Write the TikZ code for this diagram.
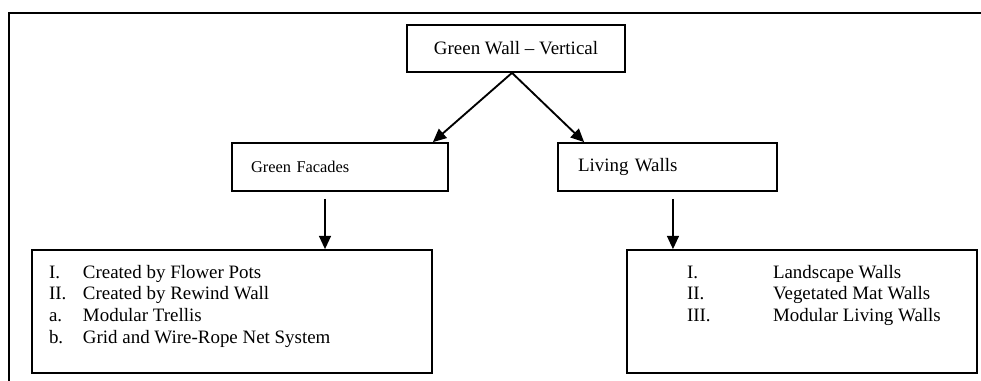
\documentclass[tikz,border=0pt]{standalone}
\usepackage{fontspec}
\setmainfont{Liberation Serif}
\usetikzlibrary{arrows.meta,calc}
\begin{document}
\begin{tikzpicture}[x=0.75pt,y=-0.75pt,
  box/.style={draw, line width=1.3pt, inner sep=0pt, anchor=center},
  arr/.style={line width=1.4pt, -{Triangle[length=10pt,width=9pt]}},
  bigfont/.style={font=\fontsize{14.2pt}{16.3pt}\selectfont},
]
\useasboundingbox (0,0) rectangle (981,381);
\draw[line width=1.7pt] (9,381) -- (9,13) -- (981,13);
\node[box, bigfont, minimum width=163.5pt, minimum height=35.25pt] (top) at (516,48.5) {Green Wall – Vertical};
\node[box, font=\fontsize{12.3pt}{14pt}\selectfont, text width=133.5pt, inner xsep=14.25pt, minimum height=36pt, align=left] (gf) at (340,167) {Green Facades};
\node[box, bigfont, text width=134.25pt, inner xsep=15pt, minimum height=36pt, align=left] (lw) at (667.5,167) {Living Walls};
\node[box, bigfont, text height=21pt, text depth=71.25pt] (lb) at (232,311.5) {\begin{tabular}[t]{@{\hspace{12.75pt}}p{25.5pt}@{}p{261.75pt}@{}}
I. & Created by Flower Pots\\
II. & Created by Rewind Wall\\
a. & Modular Trellis\\
b. & Grid and Wire-Rope Net System
\end{tabular}};
\node[box, bigfont, text height=21pt, text depth=71.25pt] (rb) at (802,311.5) {\begin{tabular}[t]{@{\hspace{45pt}}p{64.5pt}@{}p{153pt}@{}}
I. & Landscape Walls\\
II. & Vegetated Mat Walls\\
III. & Modular Living Walls
\end{tabular}};
\coordinate (s0) at ([xshift=-3pt]top.south);
\draw[arr] (s0) -- ([xshift=-12pt]gf.north east);
\draw[arr] (s0) -- ([xshift=20.25pt]lw.north west);
\coordinate (a1) at ([xshift=-11.25pt,yshift=-5.25pt]gf.south);
\coordinate (a2) at ([xshift=4.1pt,yshift=-5.25pt]lw.south);
\draw[arr, line width=1.2pt] (a1) -- (a1 |- lb.north);
\draw[arr, line width=1.2pt] (a2) -- (a2 |- rb.north);
\end{tikzpicture}
\end{document}
